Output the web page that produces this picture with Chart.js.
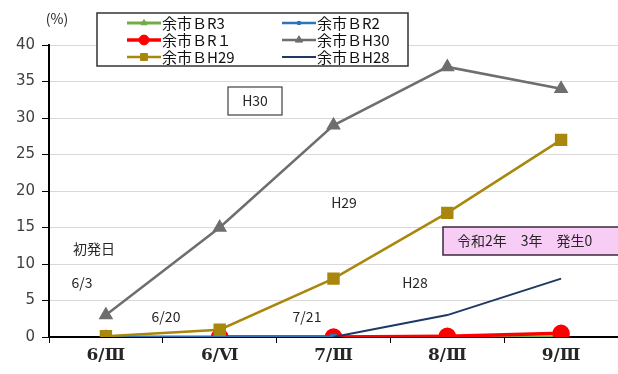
<!DOCTYPE html>
<html>
<head>
<meta charset="utf-8">
<script src="https://cdn.jsdelivr.net/npm/chart.js@4/dist/chart.umd.min.js"></script>
<style>
  html, body { margin: 0; padding: 0; background: #fff; }
  canvas { display: block; }
</style>
</head>
<body>
<canvas id="chart" width="618" height="374"></canvas>
<script>
/* ---- data ---- */
const categories = ["6/Ⅲ", "6/Ⅵ", "7/Ⅲ", "8/Ⅲ", "9/Ⅲ"];
const seriesNames = ["余市ＢR3", "余市ＢR2", "余市ＢR１", "余市ＢH30", "余市ＢH29", "余市ＢH28"];
const r3 = [0, 0, 0, 0, 0];
const r2 = [0, 0, 0, null, null];
const r1 = [null, 0, 0, 0.1, 0.5];
const h30 = [3, 15, 29, 37, 34];
const h29 = [0.1, 1, 8, 17, 27];
const h28 = [null, null, 0, 3, 8];
const yMin = 0, yMax = 40, yStep = 5;

const JP = "'Noto Sans CJK JP', 'Noto Sans', sans-serif";

/* ---- text notes inside the plot ---- */
const notes = [
  { text: "(%)", x: 57, y: 19 },
  { text: "H30", x: 255, y: 101, box: true },
  { text: "H29", x: 344, y: 203 },
  { text: "初発日", x: 94, y: 249 },
  { text: "6/3", x: 82, y: 283 },
  { text: "6/20", x: 166, y: 317 },
  { text: "7/21", x: 307, y: 317 },
  { text: "H28", x: 415, y: 283 },
  { text: "令和2年　3年　発生0", x: 457, y: 241, align: "left",
    fill: "#F7CCF5", rect: [443, 227, 180, 28] }
];

const notesPlugin = {
  id: "notes",
  afterDatasetsDraw(chart) {
    const ctx = chart.ctx;
    ctx.save();
    notes.forEach(n => {
      if (n.rect) {
        ctx.fillStyle = n.fill;
        ctx.fillRect(...n.rect);
        ctx.strokeStyle = "#3a2a3a";
        ctx.lineWidth = 1.5;
        ctx.strokeRect(...n.rect);
      }
      if (n.box) {
        ctx.fillStyle = "#fff";
        ctx.fillRect(n.x - 27, n.y - 14, 54, 28);
        ctx.strokeStyle = "#404040";
        ctx.lineWidth = 1.2;
        ctx.strokeRect(n.x - 27, n.y - 14, 54, 28);
      }
      ctx.fillStyle = "#262626";
      ctx.font = "14px " + JP;
      ctx.textAlign = n.align || "center";
      ctx.textBaseline = "middle";
      ctx.fillText(n.text, n.x, n.y);
    });
    ctx.restore();
  }
};

/* ---- legend box, two columns ---- */
const legendPlugin = {
  id: "boxLegend",
  afterDraw(chart) {
    const ctx = chart.ctx;
    ctx.save();
    ctx.fillStyle = "#fff";
    ctx.fillRect(97, 13, 311, 53);
    ctx.strokeStyle = "#333";
    ctx.lineWidth = 1.5;
    ctx.strokeRect(97, 13, 311, 53);
    const colX = [127, 282];
    const rowY = [23, 40, 57];
    chart.data.datasets.forEach((ds, i) => {
      const x = colX[i % 2], y = rowY[Math.floor(i / 2)];
      ctx.strokeStyle = ds.borderColor;
      ctx.lineWidth = ds.borderWidth;
      ctx.beginPath();
      ctx.moveTo(x, y);
      ctx.lineTo(x + 34, y);
      ctx.stroke();
      if (ds.pointRadius > 0) {
        ctx.fillStyle = ds.backgroundColor;
        ctx.strokeStyle = ds.borderColor;
        ctx.lineWidth = 1;
        Chart.helpers.drawPoint(ctx, {
          pointStyle: ds.pointStyle, radius: ds.pointRadius * 0.7, rotation: 0, borderWidth: 1
        }, x + 17, y);
      }
      ctx.fillStyle = "#111";
      ctx.font = "15px " + JP;
      ctx.textAlign = "left";
      ctx.textBaseline = "middle";
      ctx.fillText(ds.label, x + 35, y);
    });
    ctx.restore();
  }
};

function series(label, data, color, style, radius, width, order) {
  return {
    label, data,
    borderColor: color, backgroundColor: color,
    pointStyle: style, pointRadius: radius, pointHoverRadius: radius,
    pointBorderColor: color, pointBackgroundColor: color,
    borderWidth: width, tension: 0, order
  };
}

new Chart(document.getElementById("chart"), {
  type: "line",
  data: {
    labels: categories,
    datasets: [
      series(seriesNames[0], r3, "#70AD47", "triangle", 5, 3, 6),
      series(seriesNames[1], r2, "#2E75B6", "rect", 3, 2.5, 4),
      series(seriesNames[2], r1, "#FF0000", "circle", 7, 3.5, 5),
      series(seriesNames[3], h30, "#6E6E6E", "triangle", 6, 2.5, 1),
      series(seriesNames[4], h29, "#A8870C", "rect", 7, 2.5, 2),
      series(seriesNames[5], h28, "#1F3864", "circle", 0, 2, 3)
    ]
  },
  options: {
    responsive: false,
    animation: false,
    layout: { autoPadding: false, padding: { top: 45, right: 0, left: 0, bottom: 0 } },
    plugins: { legend: { display: false }, tooltip: { enabled: false } },
    scales: {
      x: {
        offset: true,
        afterFit: s => { s.height = 37; },
        grid: { drawOnChartArea: false, drawTicks: true, tickLength: 6, tickColor: "#000", offset: true },
        border: { display: true, color: "#000", width: 2 },
        ticks: {
          color: "#262626", padding: 2, maxRotation: 0,
          font: { family: "'DejaVu Serif', serif", size: 17, weight: "bold" }
        }
      },
      y: {
        min: yMin, max: yMax,
        afterFit: s => { s.width = 49; },
        grid: { color: "#D9D9D9", lineWidth: 1, tickLength: 7, tickColor: "#000" },
        border: { display: true, color: "#000", width: 2 },
        ticks: {
          stepSize: yStep, color: "#404040", padding: 7,
          font: { family: "'DejaVu Sans', sans-serif", size: 15 }
        }
      }
    }
  },
  plugins: [notesPlugin, legendPlugin]
});
</script>
</body>
</html>
